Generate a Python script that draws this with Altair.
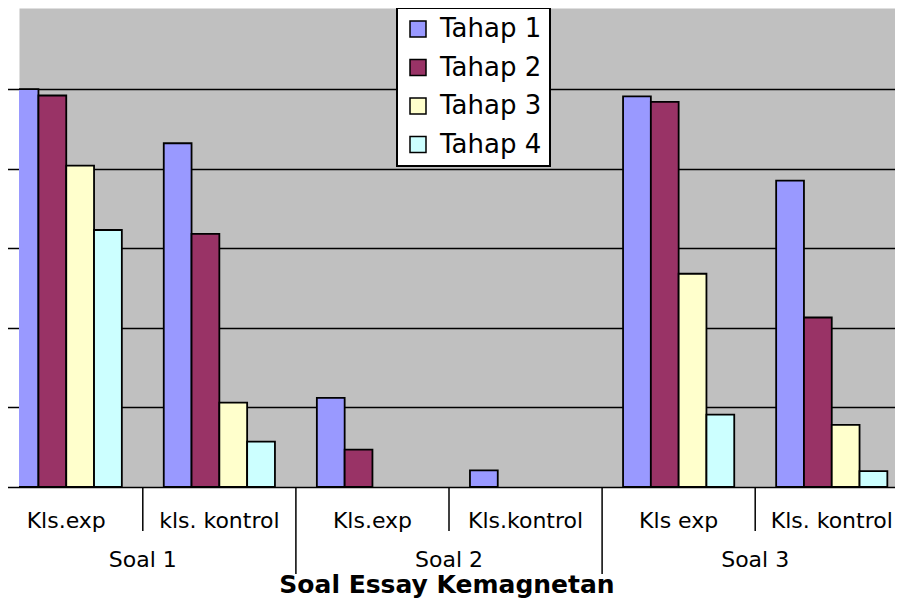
import altair as alt
import pandas as pd

# ---- data ----
keys = ["S1-exp", "S1-kon", "S2-exp", "S2-kon", "S3-exp", "S3-kon"]
class_labels = ["Kls.exp", "kls. kontrol", "Kls.exp", "Kls.kontrol", "Kls exp", "Kls. kontrol"]
soal_labels = ["Soal 1", "Soal 2", "Soal 3"]
series = ["Tahap 1", "Tahap 2", "Tahap 3", "Tahap 4"]
tahap1 = [100.0, 86.4, 22.4, 4.2, 98.2, 77.0]
tahap2 = [98.4, 63.6, 9.4, 0.0, 96.8, 42.6]
tahap3 = [80.8, 21.2, 0.0, 0.0, 53.6, 15.6]
tahap4 = [64.6, 11.4, 0.0, 0.0, 18.2, 4.0]
colors = ["#9999FF", "#993366", "#FFFFCC", "#CCFFFF"]
title_text = "Soal Essay Kemagnetan"

rows = []
for s, vals in zip(series, [tahap1, tahap2, tahap3, tahap4]):
    for k, v in zip(keys, vals):
        rows.append({"key": k, "tahap": s, "value": v})
bars_df = pd.DataFrame(rows)

labels_df = pd.DataFrame({"key": keys, "label": class_labels})
soal_df = pd.DataFrame({"key": [keys[1], keys[3], keys[5]], "label": soal_labels})
short_df = pd.DataFrame({"key": [keys[1], keys[3], keys[5]]})
long_df = pd.DataFrame({"key": [keys[2], keys[4]]})
title_df = pd.DataFrame({"t": [title_text]})

W, H = 876, 479
xscale = alt.Scale(domain=keys, range=[-29.3, 889.3], paddingInner=0, paddingOuter=0)

bars = alt.Chart(bars_df).transform_filter("datum.value > 0").mark_bar(
    clip=True, stroke="black", strokeWidth=1.8
).encode(
    x=alt.X("key:N", scale=xscale, axis=None),
    xOffset=alt.XOffset("tahap:N", scale=alt.Scale(domain=series, paddingOuter=0.754, paddingInner=0)),
    y=alt.Y("value:Q", scale=alt.Scale(domain=[0, 120.4], nice=False, zero=True),
            axis=alt.Axis(values=[0, 20, 40, 60, 80, 100], labels=False, ticks=False, domain=False,
                          grid=True, gridColor="black", gridWidth=1.5, gridOpacity=1, title=None)),
    color=alt.Color("tahap:N", scale=alt.Scale(domain=series, range=colors),
                    legend=alt.Legend(orient="none", legendX=378, legendY=0, title=None,
                                      direction="vertical", fillColor="white", strokeColor="black",
                                      padding=8, symbolType="square", symbolSize=256,
                                      symbolStrokeColor="black", symbolStrokeWidth=1.5,
                                      symbolOpacity=1, labelFont="DejaVu Sans", labelFontSize=26,
                                      labelColor="black", labelOffset=9, rowPadding=12.5)),
)

short_rules = alt.Chart(short_df).mark_rule(color="black", strokeWidth=1.5).encode(
    x=alt.X("key:N", scale=xscale, axis=None, bandPosition=0),
    y=alt.value(H), y2=alt.value(523),
)
long_rules = alt.Chart(long_df).mark_rule(color="black", strokeWidth=1.5).encode(
    x=alt.X("key:N", scale=xscale, axis=None, bandPosition=0),
    y=alt.value(H), y2=alt.value(566),
)

class_text = alt.Chart(labels_df).mark_text(
    font="DejaVu Sans", fontSize=22, color="black", baseline="middle", align="center"
).encode(
    x=alt.X("key:N", scale=xscale, axis=None),
    y=alt.value(513),
    text="label:N",
)
soal_text = alt.Chart(soal_df).mark_text(
    font="DejaVu Sans", fontSize=22, color="black", baseline="middle", align="center"
).encode(
    x=alt.X("key:N", scale=xscale, axis=None, bandPosition=0),
    y=alt.value(552),
    text="label:N",
)
title = alt.Chart(title_df).mark_text(
    font="DejaVu Sans", fontSize=25, fontWeight="bold", color="black",
    baseline="alphabetic", align="center"
).encode(
    x=alt.value(428), y=alt.value(585), text="t:N"
)

chart = alt.layer(bars, short_rules, long_rules, class_text, soal_text, title).properties(
    width=W, height=H,
    padding={"left": 11, "top": 0, "right": 0, "bottom": 114},
    autosize=alt.AutoSizeParams(type="none"),
    background="white",
).configure_view(
    fill="#C0C0C0", stroke="transparent"
).configure_legend(
    strokeWidth=2
)

chart.save("out.html", embed_options={"renderer": "svg", "actions": False})
